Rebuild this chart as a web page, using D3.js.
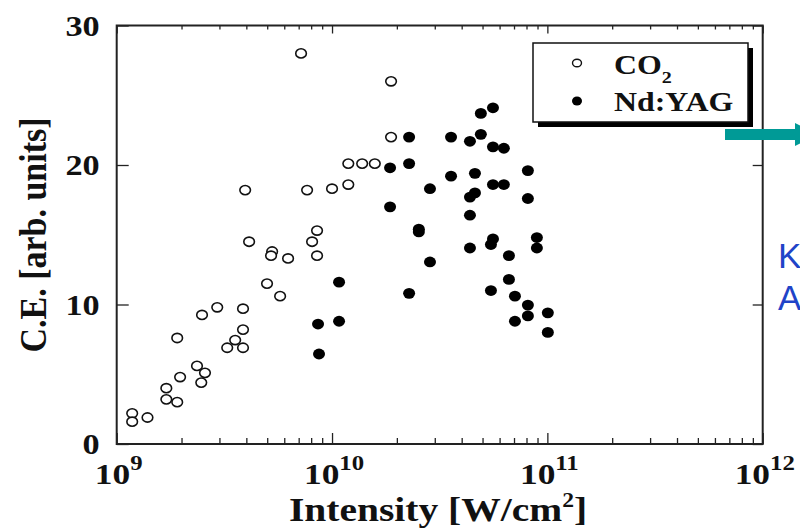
<!DOCTYPE html>
<html>
<head>
<meta charset="utf-8">
<script src="https://cdn.jsdelivr.net/npm/d3@7"></script>
<style>
  html, body { margin: 0; padding: 0; background: #fff; }
  svg { display: block; }
  .serif { font-family: "Liberation Serif", "Times New Roman", serif; font-weight: bold; fill: #111; }
</style>
</head>
<body>
<svg id="chart" width="800" height="530"></svg>
<script>
// ---------- data ----------
const co2Intensity = [7.18e9, 1.88e10, 1.88e10, 1.19e10, 1.38e10, 1.58e10, 1.19e10, 1.0e10, 7.66e9, 3.95e9,
  8.52e9, 4.12e9, 8.08e9, 5.27e9, 5.21e9, 6.25e9, 8.52e9, 4.99e9, 5.74e9, 2.93e9,
  2.49e9, 3.86e9, 3.86e9, 1.91e9, 3.55e9, 3.26e9, 3.86e9, 2.36e9, 2.57e9, 1.97e9,
  2.47e9, 1.70e9, 1.70e9, 1.91e9, 1.18e9, 1.39e9, 1.18e9];
const co2CE = [28.0, 26.0, 22.0, 20.1, 20.1, 20.1, 18.6, 18.3, 18.2, 18.2,
  15.3, 14.5, 14.5, 13.8, 13.5, 13.3, 13.5, 11.5, 10.6, 9.8,
  9.25, 9.7, 8.2, 7.6, 7.45, 6.9, 6.9, 5.6, 5.1, 4.8,
  4.4, 4.0, 3.2, 3.0, 2.2, 1.9, 1.6];
const yagIntensity = [5.59e10, 4.91e10, 2.28e10, 3.57e10, 4.37e10, 4.91e10, 5.59e10, 6.28e10, 1.86e10, 2.28e10,
  3.57e10, 4.61e10, 8.12e10, 2.85e10, 4.37e10, 4.61e10, 5.59e10, 6.28e10, 8.12e10, 1.86e10,
  4.37e10, 2.53e10, 2.53e10, 5.59e10, 5.47e10, 4.37e10, 8.94e10, 8.94e10, 6.63e10, 2.85e10,
  6.63e10, 5.47e10, 7.07e10, 8.12e10, 8.12e10, 7.07e10, 1.005e11, 1.005e11, 1.078e10, 2.28e10,
  1.078e10, 8.61e9, 8.7e9];
const yagCE = [24.1, 23.7, 22.0, 22.0, 21.7, 22.2, 21.3, 21.2, 19.8, 20.1,
  19.2, 19.4, 19.6, 18.3, 17.7, 18.0, 18.6, 18.6, 17.6, 17.0,
  16.4, 15.4, 15.2, 14.7, 14.3, 14.05, 14.8, 14.05, 13.5, 13.05,
  11.8, 11.0, 10.6, 9.96, 9.18, 8.8, 9.4, 8.0, 11.6, 10.8,
  8.8, 8.6, 6.45];
const seriesNames = ["CO", "Nd:YAG"];
const xTickExponents = [9, 10, 11, 12];
const yTickValues = [0, 10, 20, 30];
const xTitle = "Intensity [W/cm";
const yTitle = "C.E. [arb. units]";
const sideText = ["K", "A"];

// ---------- layout ----------
const svg = d3.select("#chart");
const SX = 1.18; // horizontal stretch of the original raster text
const x = d3.scaleLog().domain([1e9, 1e12]).range([116.7, 762.7]);
const y = d3.scaleLinear().domain([0, 30]).range([444, 25.5]);
const [x0, x1] = x.range();
const [yb, yt] = y.range();

const minorX = [];
for (let e = 9; e < 12; e++) for (let m = 2; m <= 9; m++) minorX.push(m * Math.pow(10, e));
const majorX = xTickExponents.map(e => Math.pow(10, e));

function axisStyle(g) {
  g.select(".domain").remove();
  g.selectAll("line").attr("stroke", "#222").attr("stroke-width", 1.3);
  g.selectAll("text").remove();
}
// bottom
svg.append("g").attr("transform", `translate(0,${yb})`)
  .call(d3.axisBottom(x).tickValues(minorX).tickSizeInner(-6).tickSizeOuter(0).tickFormat(""))
  .call(axisStyle);
svg.append("g").attr("transform", `translate(0,${yb})`)
  .call(d3.axisBottom(x).tickValues(majorX).tickSizeInner(-11).tickSizeOuter(0).tickFormat(""))
  .call(axisStyle);
// top
svg.append("g").attr("transform", `translate(0,${yt})`)
  .call(d3.axisTop(x).tickValues(minorX).tickSizeInner(-4).tickSizeOuter(0).tickFormat(""))
  .call(axisStyle);
svg.append("g").attr("transform", `translate(0,${yt})`)
  .call(d3.axisTop(x).tickValues(majorX).tickSizeInner(-8).tickSizeOuter(0).tickFormat(""))
  .call(axisStyle);
// left / right
svg.append("g").attr("transform", `translate(${x0},0)`)
  .call(d3.axisLeft(y).tickValues(yTickValues).tickSizeInner(-12).tickSizeOuter(0).tickFormat(""))
  .call(axisStyle);
svg.append("g").attr("transform", `translate(${x1},0)`)
  .call(d3.axisRight(y).tickValues(yTickValues).tickSizeInner(-10).tickSizeOuter(0).tickFormat(""))
  .call(axisStyle);

// frame
svg.append("rect").attr("x", x0).attr("y", yt).attr("width", x1 - x0).attr("height", yb - yt)
  .attr("fill", "none").attr("stroke", "#222").attr("stroke-width", 2);

// y tick labels
yTickValues.forEach(v => {
  svg.append("text").attr("class", "serif")
    .attr("transform", `translate(${x0 - 17},${y(v) + 10}) scale(${SX},1)`)
    .attr("text-anchor", "end").attr("font-size", 29).text(v);
});
// x tick labels
xTickExponents.forEach(e => {
  const t = svg.append("text").attr("class", "serif")
    .attr("transform", `translate(${x(Math.pow(10, e)) + 2},484) scale(${SX},1)`)
    .attr("text-anchor", "middle").attr("font-size", 30);
  t.append("tspan").text("10");
  t.append("tspan").attr("dy", -14).attr("font-size", 21).text(e);
});
// x title
{
  const t = svg.append("text").attr("class", "serif")
    .attr("transform", `translate(438,521) scale(${SX},1)`)
    .attr("text-anchor", "middle").attr("font-size", 33.5);
  t.append("tspan").text(xTitle);
  t.append("tspan").attr("dy", -14).attr("font-size", 20).text("2");
  t.append("tspan").attr("dy", 14).text("]");
}
// y title
svg.append("text").attr("class", "serif")
  .attr("transform", `translate(46,235) scale(1.1,1) rotate(-90)`)
  .attr("text-anchor", "middle").attr("font-size", 34).text(yTitle);

// points
svg.append("g").selectAll("ellipse").data(co2Intensity.map((d, i) => [d, co2CE[i]])).join("ellipse")
  .attr("cx", d => x(d[0])).attr("cy", d => y(d[1])).attr("rx", 5.3).attr("ry", 4.6)
  .attr("fill", "#fff").attr("stroke", "#111").attr("stroke-width", 1.6);
svg.append("g").selectAll("ellipse").data(yagIntensity.map((d, i) => [d, yagCE[i]])).join("ellipse")
  .attr("cx", d => x(d[0])).attr("cy", d => y(d[1])).attr("rx", 6).attr("ry", 5.4)
  .attr("fill", "#000");

// legend
const lg = svg.append("g");
lg.append("rect").attr("x", 538).attr("y", 48).attr("width", 215).attr("height", 79).attr("fill", "#000");
lg.append("rect").attr("x", 533).attr("y", 43).attr("width", 215).attr("height", 79)
  .attr("fill", "#fff").attr("stroke", "#111").attr("stroke-width", 1.5);
lg.append("ellipse").attr("cx", 577).attr("cy", 63).attr("rx", 4.5).attr("ry", 3.8)
  .attr("fill", "#fff").attr("stroke", "#111").attr("stroke-width", 1.4);
lg.append("ellipse").attr("cx", 577).attr("cy", 101).attr("rx", 5).attr("ry", 4.5).attr("fill", "#000");
{
  const t = lg.append("text").attr("class", "serif")
    .attr("transform", `translate(614,74) scale(${SX},1)`).attr("font-size", 27);
  t.append("tspan").text(seriesNames[0]);
  t.append("tspan").attr("dy", 9).attr("font-size", 17).text("2");
}
lg.append("text").attr("class", "serif")
  .attr("transform", `translate(614,111) scale(${SX},1)`).attr("font-size", 27).text(seriesNames[1]);

// arrow
svg.append("rect").attr("x", 725).attr("y", 129).attr("width", 72).attr("height", 11).attr("fill", "#009a96");
svg.append("path").attr("d", "M795,123 L795,146 L818,134.5 Z").attr("fill", "#009a96");

// side text
sideText.forEach((s, i) => {
  svg.append("text").attr("x", 778).attr("y", 268 + i * 42)
    .attr("font-family", "Liberation Sans, Arial, sans-serif").attr("font-size", 35)
    .attr("fill", "#1f44c8").text(s);
});
</script>
</body>
</html>
